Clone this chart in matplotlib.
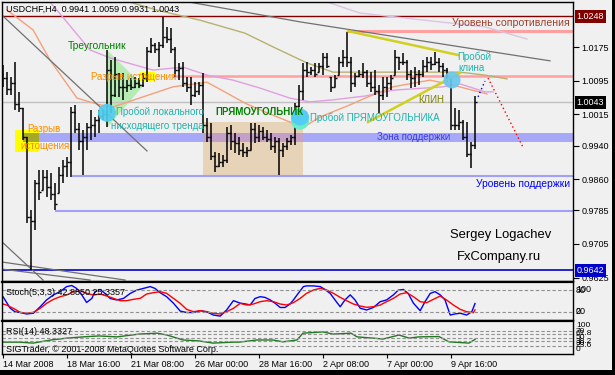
import matplotlib
matplotlib.use("Agg")
import matplotlib.pyplot as plt
import matplotlib.transforms as mtransforms
from matplotlib.patches import Polygon, Rectangle, Ellipse
import numpy as np

plt.rcParams['font.family'] = ['Liberation Sans', 'DejaVu Sans']

# ---------------- price bars (USDCHF H4) ----------------
highs = [1.0132, 1.0115, 1.0103, 1.0139, 1.0068, 1.0030, 0.9960, 0.9786, 0.9857, 0.9881,
         0.9881, 0.9881, 0.9874, 0.9850, 0.9888, 0.9905, 0.9912, 1.0032, 1.0036, 0.9993,
         0.9977, 0.9993, 1.0025, 1.0008, 1.0025, 1.0025, 1.0168, 1.0144, 1.0151, 1.0113,
         1.0113, 1.0096, 1.0101, 1.0103, 1.0101, 1.0113, 1.0175, 1.0197, 1.0185, 1.0187,
         1.0247, 1.0223, 1.0220, 1.0175, 1.0137, 1.0139, 1.0103, 1.0103, 1.0091, 1.0091,
         1.0113, 1.0006, 0.9993, 0.9924, 0.9922, 0.9917, 0.9984, 0.9989, 0.9970, 0.9960,
         0.9946, 0.9936, 0.9993, 0.9993, 0.9989, 0.9984, 0.9977, 0.9970, 0.9960, 0.9958,
         0.9946, 0.9958, 0.9965, 1.0041, 1.0084, 1.0137, 1.0139, 1.0127, 1.0137, 1.0137,
         1.0161, 1.0161, 1.0103, 1.0108, 1.0151, 1.0168, 1.0211, 1.0151, 1.0113, 1.0120,
         1.0137, 1.0120, 1.0115, 1.0120, 1.0084, 1.0103, 1.0103, 1.0108, 1.0168, 1.0151,
         1.0161, 1.0144, 1.0120, 1.0127, 1.0120, 1.0144, 1.0151, 1.0151, 1.0163, 1.0149,
         1.0137, 1.0125, 1.0103, 1.0030, 1.0025, 1.0001, 0.9996, 0.9948, 1.0059]
lows = [1.0079, 1.0060, 1.0060, 1.0025, 1.0020, 0.9953, 0.9755, 0.9642, 0.9738, 0.9810,
        0.9834, 0.9817, 0.9810, 0.9786, 0.9826, 0.9850, 0.9864, 0.9864, 0.9970, 0.9929,
        0.9869, 0.9929, 0.9953, 0.9960, 0.9970, 1.0001, 0.9984, 1.0017, 1.0056, 1.0056,
        1.0049, 1.0068, 1.0072, 1.0077, 1.0077, 1.0080, 1.0091, 1.0161, 1.0161, 1.0127,
        1.0173, 1.0185, 1.0161, 1.0103, 1.0096, 1.0080, 1.0068, 1.0037, 1.0056, 1.0060,
        0.9970, 0.9948, 0.9905, 0.9877, 0.9888, 0.9888, 0.9898, 0.9929, 0.9922, 0.9917,
        0.9912, 0.9912, 0.9929, 0.9946, 0.9948, 0.9953, 0.9948, 0.9929, 0.9922, 0.9869,
        0.9912, 0.9929, 0.9941, 0.9941, 1.0032, 1.0049, 1.0103, 1.0108, 1.0103, 1.0115,
        1.0108, 1.0125, 1.0068, 1.0080, 1.0108, 1.0127, 1.0127, 1.0068, 1.0080, 1.0103,
        1.0101, 1.0080, 1.0068, 1.0060, 1.0017, 1.0049, 1.0056, 1.0072, 1.0108, 1.0120,
        1.0132, 1.0096, 1.0077, 1.0080, 1.0084, 1.0103, 1.0115, 1.0120, 1.0132, 1.0115,
        1.0103, 1.0091, 0.9977, 0.9977, 0.9977, 0.9953, 0.9912, 0.9886, 0.9931]
closes = [1.0100, 1.0075, 1.0090, 1.0040, 1.0030, 0.9960, 0.9770, 0.9760, 0.9850, 0.9830,
          0.9865, 0.9840, 0.9825, 0.9800, 0.9870, 0.9890, 0.9900, 1.0020, 0.9980, 0.9950,
          0.9960, 0.9985, 0.9990, 1.0000, 1.0010, 1.0015, 1.0120, 1.0060, 1.0110, 1.0080,
          1.0080, 1.0085, 1.0080, 1.0090, 1.0085, 1.0100, 1.0165, 1.0180, 1.0170, 1.0180,
          1.0200, 1.0195, 1.0170, 1.0120, 1.0125, 1.0090, 1.0080, 1.0060, 1.0070, 1.0085,
          0.9990, 0.9960, 0.9915, 0.9890, 0.9900, 0.9905, 0.9970, 0.9950, 0.9945, 0.9930,
          0.9925, 0.9930, 0.9980, 0.9960, 0.9975, 0.9960, 0.9955, 0.9940, 0.9950, 0.9930,
          0.9940, 0.9950, 0.9960, 1.0035, 1.0070, 1.0120, 1.0115, 1.0120, 1.0110, 1.0130,
          1.0150, 1.0130, 1.0080, 1.0100, 1.0140, 1.0150, 1.0140, 1.0090, 1.0105, 1.0110,
          1.0115, 1.0090, 1.0080, 1.0070, 1.0060, 1.0080, 1.0090, 1.0100, 1.0150, 1.0140,
          1.0140, 1.0110, 1.0100, 1.0110, 1.0110, 1.0130, 1.0140, 1.0135, 1.0140, 1.0130,
          1.0120, 1.0100, 0.9990, 0.9990, 0.9995, 0.9960, 0.9920, 0.9941, 1.0043]
first_open = 1.0110

# ---------------- moving averages (bar index, price) ----------------
olive_x = [31.75, 38.5, 49.25, 60.5, 68, 76, 82.5, 99.25, 114.25, 120.5, 126]
olive_y = [1.0282, 1.0263, 1.0239, 1.0208, 1.0173, 1.0137, 1.0115, 1.0115, 1.0115, 1.0108, 1.0099]
violet_x = [11.75, 13.5, 21.75, 26.75, 37.5, 45, 51, 57.5, 64.25, 71.75, 76.75, 82.5, 90.5,
            97.5, 110, 114.25, 120.5, 122.5]
violet_y = [1.0282, 1.0263, 1.0168, 1.0149, 1.0120, 1.0127, 1.0108, 1.0096, 1.0077, 1.0053,
            1.0044, 1.0049, 1.0058, 1.0072, 1.0080, 1.0087, 1.0068, 1.0068]
salmon_x = [1, 7.5, 11.75, 18.5, 24.25, 27.5, 35, 42.5, 51, 56, 60.5, 66, 71.75, 76, 79.25,
            86.75, 90.5, 97.5, 106.75, 112.5, 121]
salmon_y = [1.0263, 1.0216, 1.0144, 1.0053, 1.0037, 1.0032, 1.0056, 1.0080, 1.0091, 1.0065,
            1.0041, 1.0018, 0.9996, 0.9989, 1.0008, 1.0037, 1.0053, 1.0080, 1.0096, 1.0084, 1.0063]
lavender_x = [81.75, 89.25, 120.5, 131]
lavender_y = [1.0280, 1.0256, 1.0223, 1.0194]

# trend lines
trend_lines = [([-0.25, 36], [1.0251, 0.9927]),
               ([45.5, 74.25, 136.75], [1.0284, 1.0235, 1.0142]),
               ([-0.25, 10], [0.9710, 0.9619]),
               ([-0.25, 30.5], [0.9662, 0.9619]),
               ([-0.25, 21.75], [0.9645, 0.9619])]

# levels
resist_top = 1.0248
resist_level = 1.0213
gap_level = 1.0106
last_price = 1.0043
zone_lo, zone_hi = 0.9949, 0.9970
support1 = 0.9867
support2 = 0.9784
low_level = 0.9642

# ---------------- Stochastic (5,3,3) ----------------
stoch_main_x = [0, 0.5, 1.8, 3, 4.3, 5.9, 7.6, 9.3, 10.9, 12.6, 14.3, 15.9, 17.2, 18.4, 19.7,
                20.9, 22.2, 23, 24.3, 25.5, 26.8, 28.4, 30.1, 31.8, 33.4, 35.1, 36.8, 38, 39.3,
                40.9, 42.6, 44.3, 45.9, 47.6, 49.3, 50.9, 52.6, 54.3, 55.9, 57.6, 59.3, 60.5,
                61.8, 63, 64.3, 65.5, 66.8, 68, 69.3, 70.5, 71.8, 72.6, 73.8, 75.1, 75.9, 77.6,
                79.3, 80.5, 81.8, 83, 84.3, 85.5, 86.8, 88, 89.3, 90.9, 92.6, 94.3, 95.9, 97.6,
                98.8, 100.1, 101.3, 102.6, 104.3, 105.5, 106.8, 108, 109.3, 110.5, 111.8, 113,
                114.3, 115.9, 117.2, 118]
stoch_main_v = [62, 53, 30, 20, 18, 14, 16, 34, 53, 67, 76, 90, 93, 85, 67, 46, 57, 76, 82, 71,
                57, 53, 57, 71, 80, 85, 90, 85, 73, 62, 44, 22, 18, 18, 23, 20, 11, 8, 25, 51,
                44, 42, 39, 57, 62, 60, 53, 44, 32, 32, 42, 53, 71, 90, 92, 92, 90, 82, 71, 53,
                34, 53, 67, 53, 30, 25, 32, 48, 53, 67, 80, 82, 71, 44, 23, 48, 71, 76, 67, 53,
                11, 14, 16, 11, 20, 43]
stoch_sig_x = [0, 0.9, 2.6, 4.3, 5.9, 7.6, 9.3, 10.9, 12.6, 14.3, 15.9, 17.6, 19.3, 20.9, 22.6,
               24.3, 25.9, 27.6, 29.3, 30.9, 32.6, 34.3, 35.9, 37.6, 39.3, 40.9, 42.6, 44.3,
               45.9, 47.6, 49.3, 50.9, 52.6, 54.3, 55.9, 57.6, 59.3, 60.9, 62.6, 64.3, 65.9,
               67.6, 69.3, 70.9, 72.6, 74.3, 75.9, 77.6, 79.3, 80.9, 82.6, 84.3, 85.9, 87.6,
               89.3, 90.9, 92.6, 94.3, 95.9, 97.6, 99.3, 100.9, 102.6, 104.3, 105.9, 107.6,
               109.3, 110.9, 112.6, 114.3, 115.9, 117.6, 118]
stoch_sig_v = [41.6, 38.8, 29.6, 18.5, 15.7, 18.5, 29.6, 43.5, 54.6, 62, 66.6, 75.9, 78.7, 71.3,
               66.6, 69.4, 63.9, 57.4, 50.9, 50.9, 54.6, 57.4, 69.4, 73.1, 75.9, 71.3, 57.4,
               43.5, 26.8, 20.3, 23.1, 20.3, 15.7, 13.9, 20.3, 29.6, 43.5, 38.8, 41.6, 48.1,
               50.9, 48.1, 41.6, 38.8, 45.3, 57.4, 71.3, 80.5, 85.2, 80.5, 71.3, 60.1, 50.9,
               41.6, 36.1, 32.4, 34.2, 38.8, 48.1, 57.4, 69.4, 73.1, 62, 48.1, 45.3, 54.6, 63.9,
               52.7, 38.8, 26.8, 20.3, 17.6, 25.3]

# ---------------- RSI(14) ----------------
rsi_x = [0, 4, 7.5, 12, 16, 20, 24, 28.5, 34, 38.5, 41, 45, 49, 52.5, 57.5, 59, 63.5, 67.5,
         70, 73.5, 75, 80, 82.5, 87, 88.5, 92.5, 95, 99, 101.5, 104, 109, 111.5, 116.5, 118]
rsi_v = [35, 35, 32, 42, 48, 52, 55, 52, 61, 64, 58, 42, 39, 32, 35, 35, 42, 42, 36, 42, 64,
         68, 61, 64, 52, 48, 45, 58, 48, 52, 53, 36, 32, 44]
rsi_levels = [70, 61.8, 50, 38.2, 23.6]

price_ticks = [1.0175, 1.0095, 1.0015, 0.9940, 0.9860, 0.9785, 0.9705, 0.9625]
time_pos = [0, 16, 32, 48, 64, 80, 96, 112]
time_labels = ['14 Mar 2008', '18 Mar 16:00', '21 Mar 08:00', '26 Mar 00:00',
               '28 Mar 16:00', '2 Apr 08:00', '7 Apr 00:00', '9 Apr 16:00']

# ---------------- figure ----------------
W, H = 615, 375
BG = '#f0f0f0'


def box(x0, y0, x1, y1):
    # pixel rectangle (top-left origin) -> figure fraction
    return [x0 / W, 1 - y1 / H, (x1 - x0) / W, (y1 - y0) / H]


fig = plt.figure(figsize=(W / 100, H / 100), dpi=100, facecolor=BG)
ax = fig.add_axes(box(2, 2, 573, 281), facecolor=BG)
st = fig.add_axes(box(2, 282, 573, 320), facecolor=BG, sharex=ax)
rs = fig.add_axes(box(2, 321, 573, 354), facecolor=BG, sharex=ax)

ax.set_xlim(-0.25, 142.5)
ax.set_ylim(0.96167, 1.02824)
st.set_ylim(-2.8, 102.8)
rs.set_ylim(-3.2, 103.2)

for a in (ax, st, rs):
    for s in a.spines.values():
        s.set_color('black')
        s.set_linewidth(1)
    a.tick_params(axis='x', bottom=False, labelbottom=False)
    a.tick_params(axis='y', left=False, labelleft=False)
st.spines['top'].set_linewidth(1.6)
rs.spines['top'].set_linewidth(1.6)

# zones and rectangles
ax.add_patch(Rectangle((50, 0.9870), 25, 0.0126, fc='#e6d3b8', ec='none', zorder=1))
ax.axhspan(zone_lo, zone_hi, xmin=(5 + 0.25) / 142.75, xmax=1, fc='#a8a8f8', ec='none', zorder=1)
ax.add_patch(Rectangle((50, zone_lo), 25, zone_hi - zone_lo, fc='#c4a0c8', ec='none', zorder=1.1))
ax.add_patch(Rectangle((3, 0.9924), 6, 0.0053, fc='#ffff00', ec='none', zorder=1.2))
ax.add_patch(Rectangle((5, zone_lo), 4, zone_hi - zone_lo, fc='#a8a828', ec='none', zorder=1.3))
ax.add_patch(Polygon([(26, 1.0168), (35, 1.0082), (26, 0.9982)], closed=True,
                     fc='#b4ecb4', ec='none', zorder=1))
ax.add_patch(Rectangle((34.25, 1.0094), 3.75, 0.0021, fc='#ffff00', ec='none', zorder=1.2))

# horizontal levels
ax.axhline(resist_top, color='#800000', lw=1, zorder=2)
ax.axhline(last_price, color='#c0c0c0', lw=1, zorder=2)
ax.axhline(low_level, color='#0000c8', lw=1.2, zorder=2)
ax.hlines(resist_level, 86, 142.5, color='#ffa0a0', lw=2.2, zorder=2)
ax.hlines(gap_level, 42.25, 142.5, color='#ffa0a0', lw=1.8, zorder=2)
ax.hlines(support1, 17.25, 142.5, color='#a0a0f8', lw=1.5, zorder=2)
ax.hlines(support2, 13, 142.5, color='#a0a0f8', lw=1.5, zorder=2)

# moving averages and trend lines
ax.plot(lavender_x, lavender_y, color='#dcc4e4', lw=1, zorder=2)
ax.plot(olive_x, olive_y, color='#b8b070', lw=1, zorder=2)
ax.plot(violet_x, violet_y, color='#e0a0e0', lw=1, zorder=2)
ax.plot(salmon_x, salmon_y, color='#f5a07a', lw=1, zorder=2)
for tx, ty in trend_lines:
    ax.plot(tx, ty, color='#707070', lw=0.9, zorder=2)

# bars
idx = np.arange(len(highs))
opens = [first_open] + [min(max(c, lo), hi) for c, lo, hi in zip(closes[:-1], lows[1:], highs[1:])]
ax.vlines(idx, lows, highs, color='black', lw=1.1, zorder=3)
ax.hlines(opens, idx - 0.5, idx, color='black', lw=1, zorder=3)
ax.hlines(closes, idx, idx + 0.5, color='black', lw=1, zorder=3)

# wedge and projections
ax.plot([86.25, 113.75], [1.0213, 1.0156], color='#d0d020', lw=1.8, zorder=4)
ax.plot([91.25, 114.25], [0.9996, 1.0113], color='#d0d020', lw=1.8, zorder=4)
ax.plot([121.25, 130], [1.0101, 0.9936], color='red', lw=1, ls=(0, (1, 2)), zorder=4)
ax.plot([118.75, 120.5], [1.0056, 1.0094], color='blue', lw=1, ls=(0, (1, 2)), zorder=4)

# breakout circles
ax.add_patch(Ellipse((26, 1.0018), 4.5, 0.0043, fc='#50cef0', ec='none', alpha=0.92, zorder=5))
ax.add_patch(Ellipse((74.25, 0.9998), 4.5, 0.0040, fc='#66eec4', ec='none', zorder=5))
ax.add_patch(Ellipse((74.25, 1.0008), 4.5, 0.0040, fc='#55ccf5', ec='none', zorder=5.1))
ax.add_patch(Ellipse((112.25, 1.0096), 4.25, 0.0040, fc='#66c8f0', ec='none', alpha=0.9, zorder=5))

# annotations
fs = 7
ax.text(16.25, 1.0177, 'Треугольник', color='#008000', fontsize=7.4, va='center', zorder=6)
ax.text(22, 1.0104, 'Разрыв истощения', color='#ff8c00', fontsize=fs, va='center', zorder=6)
ax.text(28.25, 1.0020, 'Пробой локального', color='#20b2aa', fontsize=fs, va='center', zorder=6)
ax.text(27, 0.9987, 'нисходящего тренда', color='#20b2aa', fontsize=fs, va='center', zorder=6)
ax.text(53, 1.0020, 'ПРЯМОУГОЛЬНИК', color='#008000', fontsize=fs, fontweight='bold',
        va='center', zorder=6)
ax.text(76.75, 1.0006, 'Пробой ПРЯМОУГОЛЬНИКА', color='#20b2aa', fontsize=fs, va='center', zorder=6)
ax.text(6, 0.9979, 'Разрыв', color='#ff8c00', fontsize=fs, va='center', zorder=6)
ax.text(4.25, 0.9939, 'истощения', color='#ff8c00', fontsize=fs, va='center', zorder=6)
ax.text(93.5, 0.9960, 'Зона поддержки', color='#3c3cf0', fontsize=fs, va='center', zorder=6)
ax.text(141.75, 0.9848, 'Уровень поддержки', color='#0000ff', fontsize=7.4, va='center',
        ha='right', zorder=6)
ax.text(141.75, 1.0232, 'Уровень сопротивления', color='#a0402c', fontsize=7.6, va='center',
        ha='right', zorder=6)
ax.text(103.75, 1.0049, 'КЛИН', color='#808000', fontsize=fs, va='center', zorder=6)
ax.text(113.5, 1.0151, 'Пробой', color='#20b2aa', fontsize=fs, va='center', zorder=6)
ax.text(113.75, 1.0125, 'клина', color='#20b2aa', fontsize=fs, va='center', zorder=6)
ax.text(111.75, 0.9727, 'Sergey Logachev', color='black', fontsize=9.4, va='center', zorder=6)
ax.text(113.5, 0.9674, 'FxCompany.ru', color='black', fontsize=9.4, va='center', zorder=6)
ax.text(4 / 571, 0.975, 'USDCHF,H4  0.9941 1.0059 0.9931 1.0043', transform=ax.transAxes,
        fontsize=6.5, va='center', zorder=6)

# right price scale
ax.yaxis.tick_right()
ax.set_yticks(price_ticks)
ax.set_yticklabels([f'{v:.4f}' for v in price_ticks])
ax.tick_params(axis='y', right=True, labelright=True, direction='out', length=4, width=0.8,
               pad=2, labelsize=6.5)
tr = mtransforms.blended_transform_factory(ax.transAxes, ax.transData)
for val, col in [(resist_top, '#800000'), (last_price, 'black'), (low_level, '#0000c8')]:
    ax.text(1.006, val, f'{val:.4f}', transform=tr, color='white', fontsize=6.5, va='center',
            ha='left', clip_on=False, zorder=10,
            bbox=dict(boxstyle='square,pad=0.2', fc=col, ec='none'))

# stochastic panel
st.plot(stoch_main_x, stoch_main_v, color='#0000ff', lw=1)
st.plot(stoch_sig_x, stoch_sig_v, color='#ff0000', lw=1)
for lv in (80, 20):
    st.axhline(lv, color='#909090', lw=0.8, ls=(0, (3, 2)))
trs = mtransforms.blended_transform_factory(st.transAxes, st.transData)
for lab, v in [('100', 81), ('80', 80), ('20', 20), ('0', 22)]:
    st.text(1.005, v, lab, transform=trs, fontsize=6.5, va='center', ha='left', clip_on=False)
st.text(4 / 571, 0.72, 'Stoch(5,3,3) 42.8850 25.3357', transform=st.transAxes, fontsize=6.5,
        va='center')

# RSI panel
rs.plot(rsi_x, rsi_v, color='#207820', lw=1)
for lv in rsi_levels:
    rs.axhline(lv, color='#909090', lw=0.8, ls=(0, (3, 2)))
trr = mtransforms.blended_transform_factory(rs.transAxes, rs.transData)
for lab, v in [('100', 90), ('70', 70), ('61.8', 61.8), ('50', 50), ('38.2', 38.2),
               ('30', 30), ('23.6', 23.6), ('0', 12)]:
    rs.text(1.005, v, lab, transform=trr, fontsize=6, va='center', ha='left', clip_on=False)
rs.text(4 / 571, 0.67, 'RSI(14) 48.3327', transform=rs.transAxes, fontsize=6.5, va='center')
rs.text(4 / 571, 0.14, 'SIGTrader, © 2001-2008 MetaQuotes Software Corp.',
        transform=rs.transAxes, fontsize=6.5, va='center')

# time axis
rs.set_xticks(time_pos)
rs.set_xticklabels(time_labels, ha='left')
rs.tick_params(axis='x', bottom=True, labelbottom=True, direction='out', length=3, width=0.8,
               pad=1.5, labelsize=6.5)

# window frame
fig.patches.append(Rectangle((0, 0), 1, 5 / H, transform=fig.transFigure, fc='black', ec='none'))
fig.patches.append(Rectangle((612 / W, 0), 3 / W, 1, transform=fig.transFigure, fc='black',
                             ec='none'))

fig.savefig('out.png', dpi=100, facecolor=BG)
